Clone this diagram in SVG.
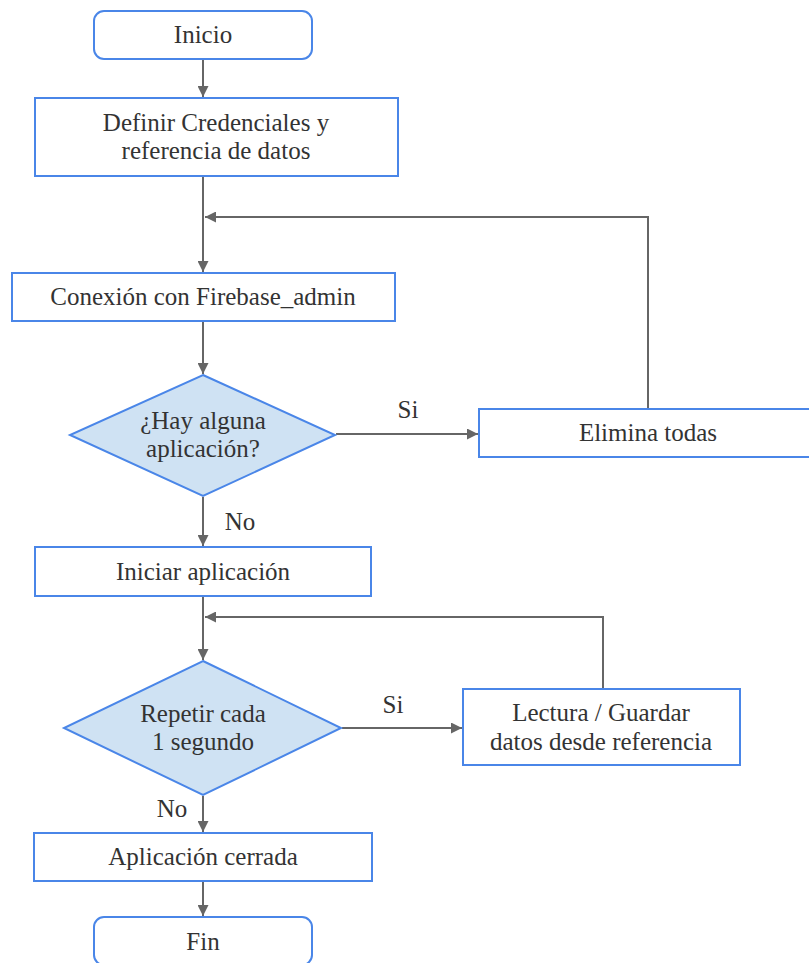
<svg xmlns="http://www.w3.org/2000/svg" width="809" height="963" viewBox="0 0 809 963">
<style>
.box{fill:#fff;stroke:#4a86e8;stroke-width:2}
.dec{fill:#cfe2f3;stroke:#4a86e8;stroke-width:2}
.t{font-size:25px;fill:#333;text-anchor:middle}
.c{fill:none;stroke:#666;stroke-width:2}
</style>
<defs>
<marker id="ah" viewBox="0 0 10 10" refX="10" refY="5" markerWidth="5.5" markerHeight="5.5" orient="auto" markerUnits="strokeWidth">
<path d="M0,0 L10,5 L0,10 z" fill="#666"/>
</marker>
</defs>
<rect width="809" height="963" fill="#fff"/>
<g font-family="'Liberation Serif', 'Times New Roman', serif">
<g id="connectors">
<line class="c" x1="203" y1="60" x2="203" y2="97" marker-end="url(#ah)"/>
<line class="c" x1="203" y1="177" x2="203" y2="272" marker-end="url(#ah)"/>
<polyline class="c" points="648,408 648,217 205,217" marker-end="url(#ah)"/>
<line class="c" x1="203" y1="322" x2="203" y2="374" marker-end="url(#ah)"/>
<line class="c" x1="336" y1="434" x2="478" y2="434" marker-end="url(#ah)"/>
<line class="c" x1="203" y1="497" x2="203" y2="546" marker-end="url(#ah)"/>
<line class="c" x1="203" y1="597" x2="203" y2="660" marker-end="url(#ah)"/>
<polyline class="c" points="603,688 603,617 205,617" marker-end="url(#ah)"/>
<line class="c" x1="342" y1="728" x2="462" y2="728" marker-end="url(#ah)"/>
<line class="c" x1="203" y1="796" x2="203" y2="832" marker-end="url(#ah)"/>
<line class="c" x1="203" y1="882" x2="203" y2="916" marker-end="url(#ah)"/>
<text class="t" x="408" y="418">Si</text>
<text class="t" x="240" y="530">No</text>
<text class="t" x="393" y="713">Si</text>
<text class="t" x="172" y="817">No</text>
</g>
<g id="inicio">
<rect class="box" x="94" y="11" width="218" height="48" rx="10"/>
<text class="t" x="203" y="43">Inicio</text>
</g>
<g id="definir">
<rect class="box" x="35" y="98" width="363" height="78"/>
<text class="t" x="216" y="131">Definir Credenciales y</text>
<text class="t" x="216" y="159">referencia de datos</text>
</g>
<g id="conexion">
<rect class="box" x="12" y="273" width="383" height="48"/>
<text class="t" x="203" y="305">Conexión con Firebase_admin</text>
</g>
<g id="hay">
<polygon class="dec" points="203,375 335,435 203,496 70,435"/>
<text class="t" x="203" y="429">¿Hay alguna</text>
<text class="t" x="203" y="457">aplicación?</text>
</g>
<g id="elimina">
<rect class="box" x="479" y="409" width="340" height="48"/>
<text class="t" x="648" y="441">Elimina todas</text>
</g>
<g id="iniciar">
<rect class="box" x="35" y="547" width="336" height="49"/>
<text class="t" x="203" y="580">Iniciar aplicación</text>
</g>
<g id="repetir">
<polygon class="dec" points="203,661 341,728 203,795 64,728"/>
<text class="t" x="203" y="722">Repetir cada</text>
<text class="t" x="203" y="750">1 segundo</text>
</g>
<g id="lectura">
<rect class="box" x="463" y="689" width="277" height="76"/>
<text class="t" x="601" y="721">Lectura / Guardar</text>
<text class="t" x="601" y="750">datos desde referencia</text>
</g>
<g id="cerrada">
<rect class="box" x="34" y="833" width="338" height="48"/>
<text class="t" x="203" y="865">Aplicación cerrada</text>
</g>
<g id="fin">
<rect class="box" x="94" y="917" width="218" height="48" rx="10"/>
<text class="t" x="203" y="950">Fin</text>
</g>
</g>
</svg>
